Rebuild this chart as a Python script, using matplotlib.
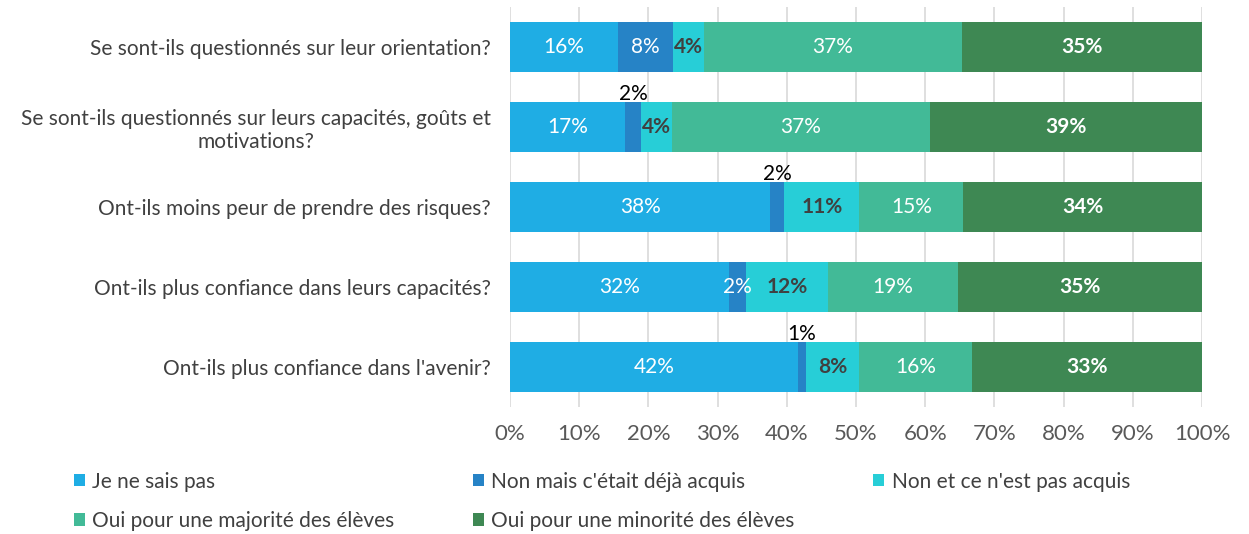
import matplotlib
matplotlib.use("Agg")
import matplotlib.pyplot as plt
from matplotlib.patches import Patch
import numpy as np

plt.rcParams['font.family'] = ['Lato', 'DejaVu Sans']

questions = [
    "Se sont-ils questionnés sur leur orientation?",
    "Se sont-ils questionnés sur leurs capacités, goûts et\nmotivations?",
    "Ont-ils moins peur de prendre des risques?",
    "Ont-ils plus confiance dans leurs capacités?",
    "Ont-ils plus confiance dans l'avenir?",
]
series_names = [
    "Je ne sais pas",
    "Non mais c'était déjà acquis",
    "Non et ce n'est pas acquis",
    "Oui pour une majorité des élèves",
    "Oui pour une minorité des élèves",
]
je_ne_sais_pas = [15.6, 16.6, 37.6, 31.7, 41.6]
non_deja_acquis = [7.9, 2.4, 2.0, 2.4, 1.2]
non_pas_acquis = [4.5, 4.4, 10.9, 11.9, 7.7]
oui_majorite = [37.3, 37.3, 15.0, 18.7, 16.3]
oui_minorite = [34.7, 39.3, 34.5, 35.3, 33.2]

labels_jnsp = ["16%", "17%", "38%", "32%", "42%"]
labels_deja = ["8%", "2%", "2%", "2%", "1%"]
labels_pas = ["4%", "4%", "11%", "12%", "8%"]
labels_maj = ["37%", "37%", "15%", "19%", "16%"]
labels_min = ["35%", "39%", "34%", "35%", "33%"]
tick_labels = ["0%", "10%", "20%", "30%", "40%", "50%", "60%", "70%", "80%", "90%", "100%"]

colors = ["#1FADE4", "#2683C6", "#27CED7", "#42BA97", "#3E8853"]
series = [je_ne_sais_pas, non_deja_acquis, non_pas_acquis, oui_majorite, oui_minorite]
label_sets = [labels_jnsp, labels_deja, labels_pas, labels_maj, labels_min]
# label styles: (color, weight, placement)
styles = [
    [("white", "normal", "in")] * 5,
    [("white", "normal", "in"), ("black", "normal", "above"), ("black", "normal", "above"),
     ("white", "normal", "in"), ("black", "normal", "above")],
    [("#404040", "bold", "in")] * 5,
    [("white", "normal", "in")] * 5,
    [("white", "bold", "in")] * 5,
]

fig = plt.figure(figsize=(12.49, 5.34), dpi=100)
ax = fig.add_axes([510/1249, 1-407/534, 692/1249, 400/534])

y = np.arange(len(questions))
bar_h = 0.625
left = np.zeros(len(questions))
for vals, col, name, labs, sty in zip(series, colors, series_names, label_sets, styles):
    vals = np.array(vals)
    ax.barh(y, vals, left=left, height=bar_h, color=col, label=name, zorder=3)
    for i in range(len(y)):
        c, w, p = sty[i]
        cx = left[i] + vals[i] / 2
        if p == "in":
            ax.text(cx, y[i], labs[i], ha="center", va="center", color=c,
                    fontweight=w, fontsize=15, zorder=4)
        else:
            ax.text(cx, y[i] - bar_h / 2 + 0.02, labs[i], ha="center", va="bottom",
                    color=c, fontweight=w, fontsize=15, zorder=4)
    left += vals

ax.set_xlim(0, 100)
ax.set_ylim(len(questions) - 0.5, -0.5)
ax.set_yticks(y)
ax.set_yticklabels(questions, fontsize=15, color="#404040")
for t in ax.get_yticklabels():
    t.set_multialignment("center")
ax.set_xticks(np.arange(0, 101, 10))
ax.set_xticklabels(tick_labels, fontsize=16, color="#595959")
ax.tick_params(axis="both", length=0)
ax.tick_params(axis="x", pad=12)
ax.tick_params(axis="y", pad=14)
ax.grid(axis="x", color="#D9D9D9", linewidth=1.2, zorder=0)
for s in ax.spines.values():
    s.set_visible(False)

handles = [Patch(facecolor=c, edgecolor="none") for c in colors]
order = [0, 3, 1, 4, 2]
fig.legend([handles[k] for k in order], [series_names[k] for k in order],
           loc="upper left", bbox_to_anchor=(59/1249, 1-457/534),
           ncol=3, frameon=False, fontsize=15, handlelength=0.55, handleheight=0.55,
           handletextpad=0.35, columnspacing=3.75, labelspacing=0.92,
           labelcolor="#404040", borderpad=0.2)

fig.savefig("out.png", dpi=100)
